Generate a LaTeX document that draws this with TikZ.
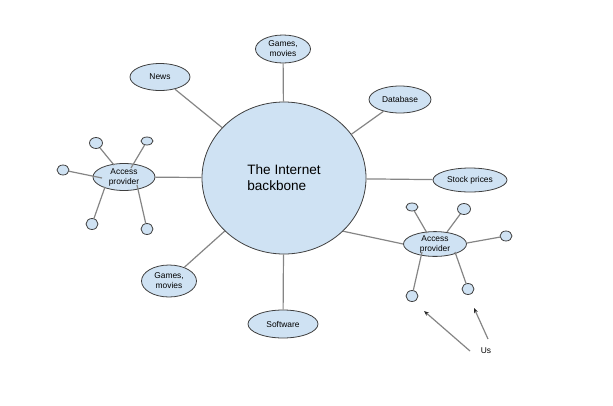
\documentclass[tikz,border=0pt]{standalone}
\usepackage{fontspec}
\setmainfont{Liberation Sans}
\usetikzlibrary{shapes.geometric,arrows.meta}
\definecolor{bub}{HTML}{CFE2F3}
\definecolor{edgec}{HTML}{3F3F3F}
\definecolor{linec}{HTML}{858585}
\begin{document}
\begin{tikzpicture}[x=1pt,y=-1pt,
  bubble/.style={ellipse,draw=edgec,fill=bub,line width=0.8pt,inner sep=0pt,
    font=\fontsize{8.4}{10}\selectfont,align=center},
  dot/.style={ellipse,draw=edgec,fill=bub,line width=0.8pt,inner sep=0pt},
  conn/.style={draw=linec,line width=1.2pt},
  arr/.style={draw=linec,line width=1.2pt,-{Stealth[length=5pt,width=4pt,color=black!85]}}]
\useasboundingbox (0,0) rectangle (613,405);
% main circle
\node[bubble,minimum width=164pt,minimum height=152pt,font=\fontsize{13.6}{16}\selectfont,align=left] (core) at (284,178) {The Internet\\backbone};
% outer bubbles
\node[bubble,minimum width=55pt,minimum height=28pt] (gtop) at (283,49) {Games,\\movies};
\node[bubble,minimum width=62pt,minimum height=27pt] (db) at (400,99.5) {Database};
\node[bubble,minimum width=60pt,minimum height=27pt] (news) at (160,77) {News};
\node[bubble,minimum width=74pt,minimum height=24pt] (stock) at (470,180) {Stock prices};
\node[bubble,minimum width=70pt,minimum height=28pt] (soft) at (283,324) {Software};
\node[bubble,minimum width=55pt,minimum height=32pt] (gbot) at (169,281) {Games,\\movies};
% access providers
\node[bubble,minimum width=62pt,minimum height=27pt] (apl) at (124,177) {Access\\provider};
\node[bubble,minimum width=63pt,minimum height=24pt] (apr) at (435,244) {Access\\provider};
% main spokes
\draw[conn] (core) -- (gtop);
\draw[conn] (core.33) -- (db);
\draw[conn] (core) -- (news);
\draw[conn] (core) -- (stock);
\draw[conn] (core) -- (soft);
\draw[conn] (core) -- (gbot);
\draw[conn] (core) -- (apl);
\draw[conn] (core.-42) -- (apr.west);
% left access provider dots
\node[dot,minimum width=13pt,minimum height=11pt] (l1) at (96,143) {};
\node[dot,minimum width=12pt,minimum height=8pt] (l2) at (147,141) {};
\node[dot,minimum width=12pt,minimum height=10pt] (l3) at (63,170) {};
\node[dot,minimum width=12pt,minimum height=11pt] (l4) at (92,224) {};
\node[dot,minimum width=12pt,minimum height=11pt] (l5) at (147,229) {};
\coordinate (la1) at (114,165);
\coordinate (la2) at (131,168);
\coordinate (la3) at (102,178);
\coordinate (la4) at (105,187);
\coordinate (la5) at (137,185);
\draw[conn] (l1) -- (la1);
\draw[conn] (l2) -- (la2);
\draw[conn] (l3) -- (la3);
\draw[conn] (l4) -- (la4);
\draw[conn] (l5) -- (la5);
% right access provider dots
\node[dot,minimum width=12pt,minimum height=8pt] (r1) at (412,207) {};
\node[dot,minimum width=13pt,minimum height=11pt] (r2) at (464,209) {};
\node[dot,minimum width=12pt,minimum height=10pt] (r3) at (506,236) {};
\node[dot,minimum width=12pt,minimum height=11pt] (r4) at (412,296) {};
\node[dot,minimum width=12pt,minimum height=11pt] (r5) at (468,289) {};
\coordinate (ra1) at (427,233);
\coordinate (ra2) at (447,232);
\coordinate (ra3) at (467,243);
\coordinate (ra4) at (422,252);
\coordinate (ra5) at (455,252);
\draw[conn] (r1) -- (ra1);
\draw[conn] (r2) -- (ra2);
\draw[conn] (r3) -- (ra3);
\draw[conn] (r4) -- (ra4);
\draw[conn] (r5) -- (ra5);
% Us
\node[font=\fontsize{8.4}{10}\selectfont,inner sep=1pt] (us) at (486,351) {Us};
\coordinate (t1) at (424,311);
\coordinate (t2) at (474,308);
\coordinate (u1) at (470,351);
\coordinate (u2) at (488,339);
\draw[arr] (u1) -- (t1);
\draw[arr] (u2) -- (t2);
\end{tikzpicture}
\end{document}
